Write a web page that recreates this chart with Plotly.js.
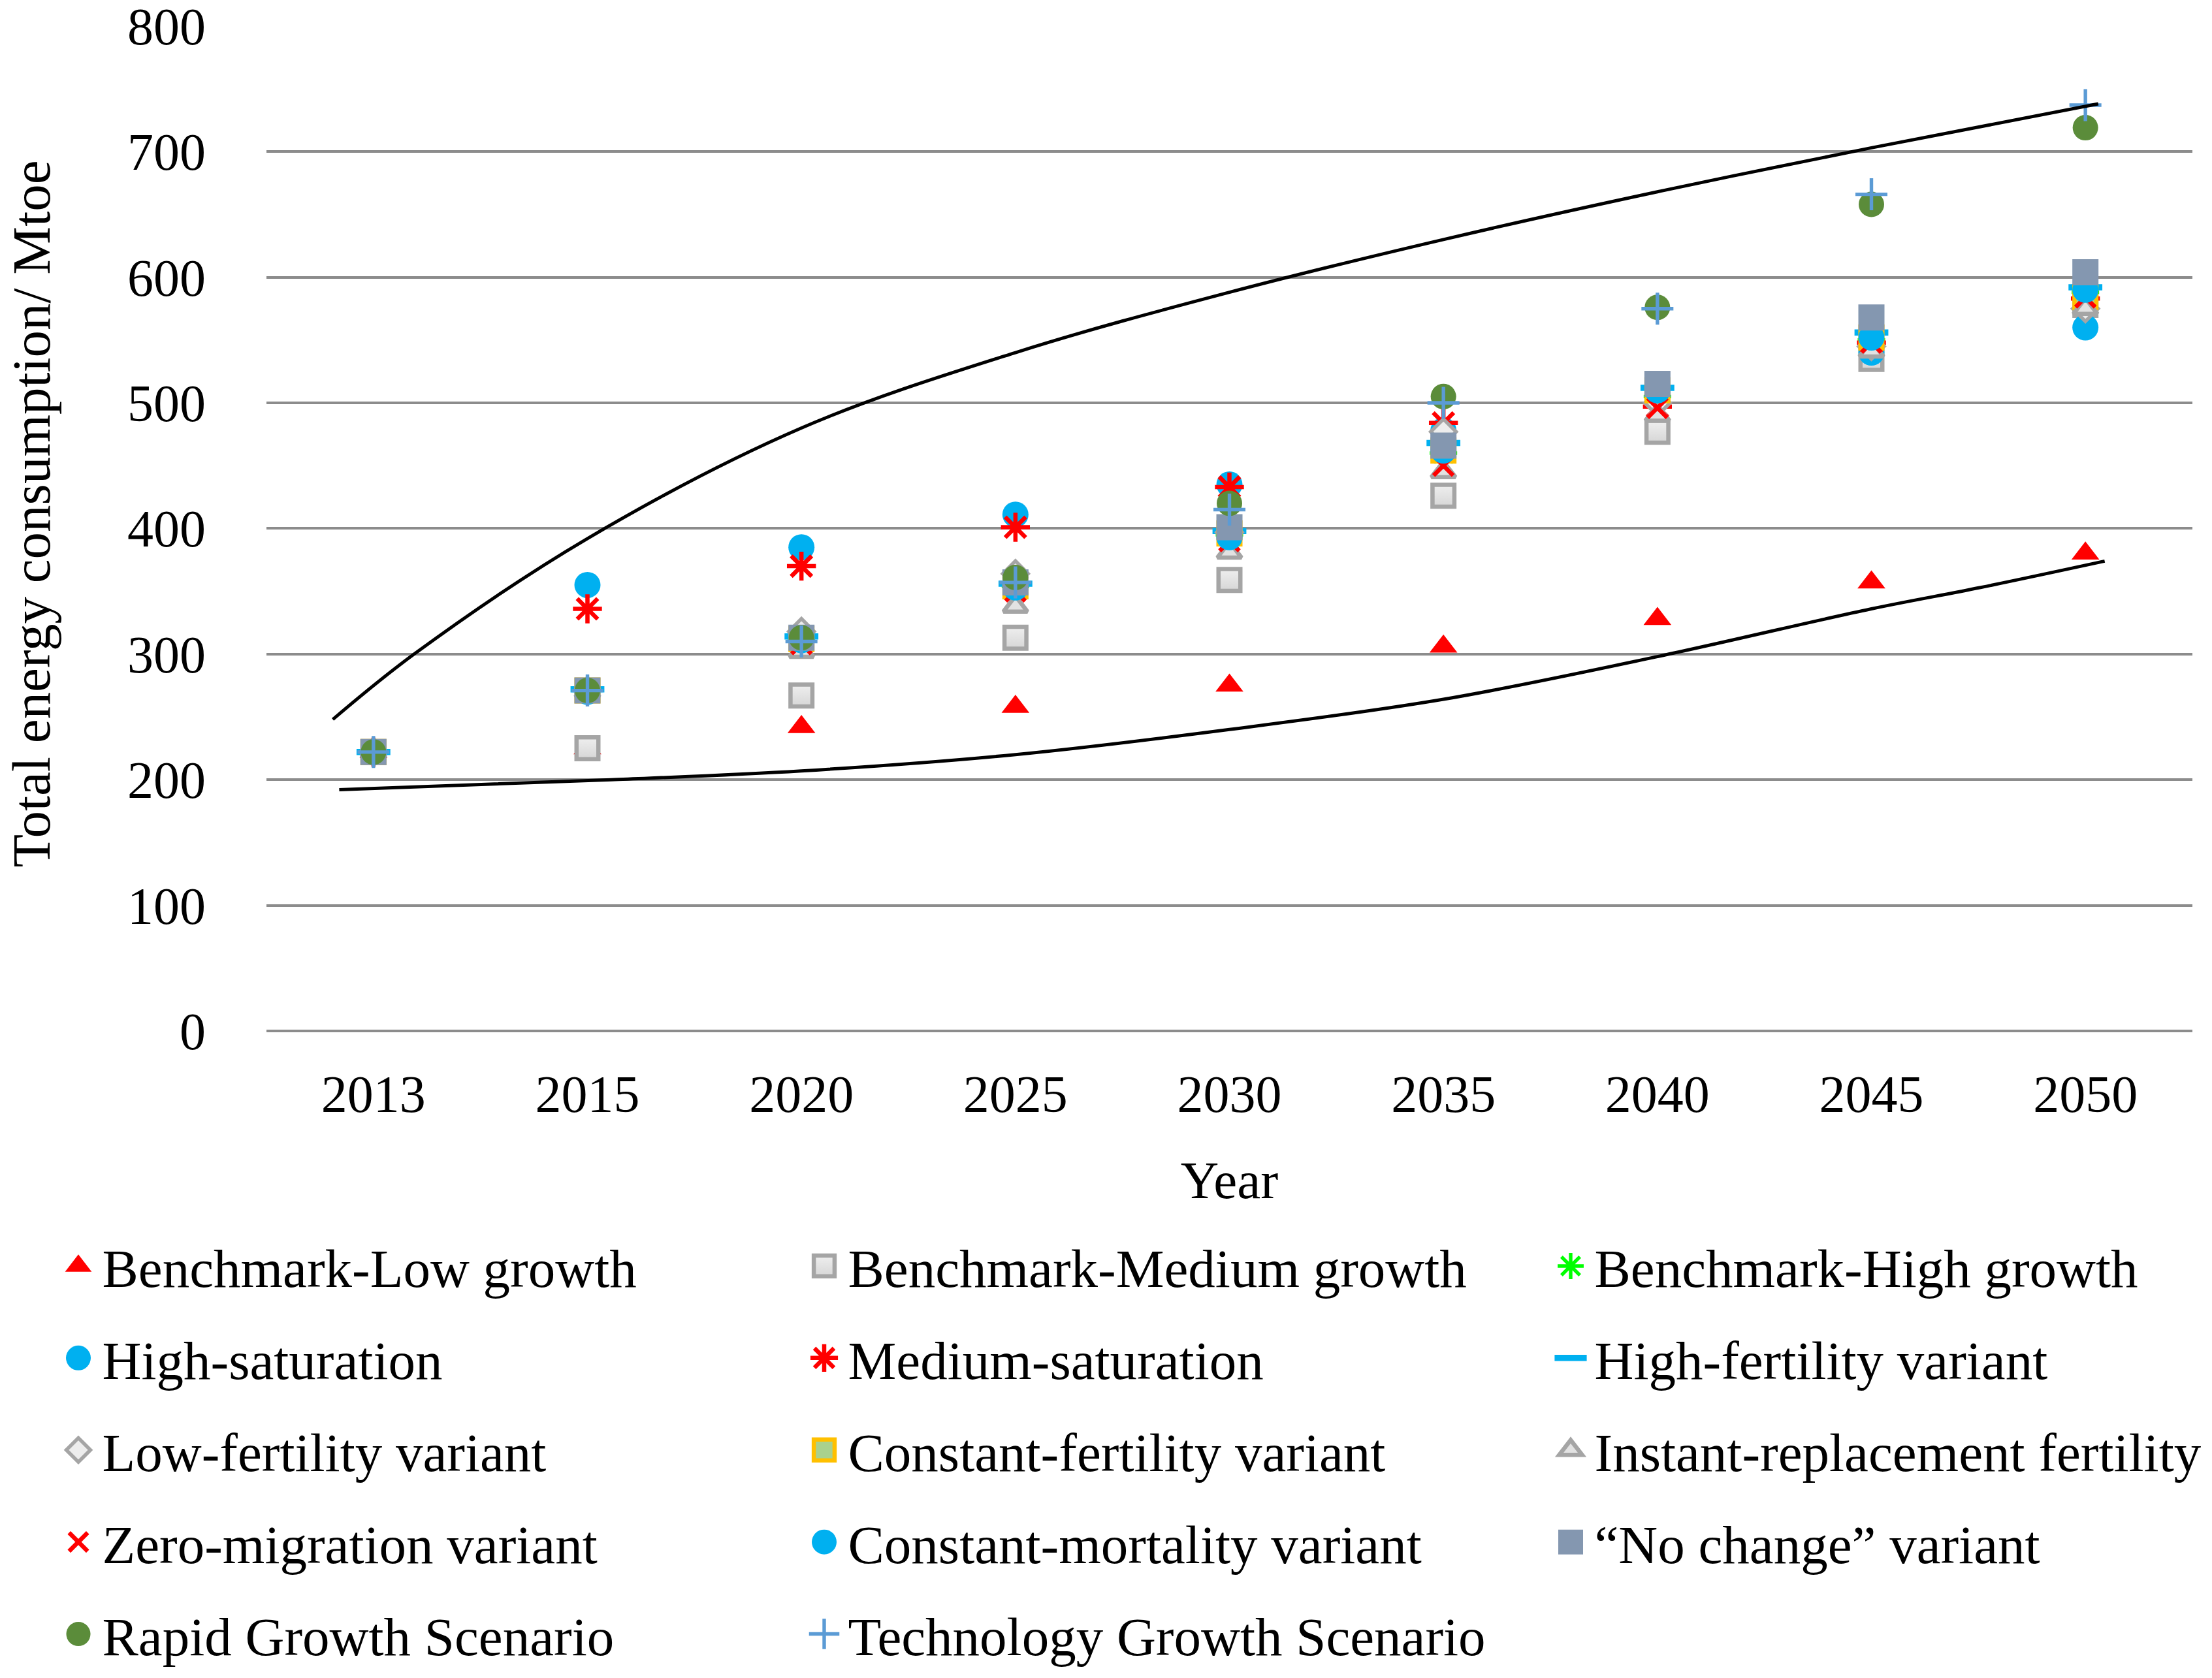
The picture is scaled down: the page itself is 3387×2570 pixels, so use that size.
<!DOCTYPE html>
<html><head><meta charset="utf-8">
<script src="https://cdn.plot.ly/plotly-3.0.1.min.js"></script>
<style>
html,body{margin:0;padding:0;background:#fff;overflow:hidden}
#chart{width:3387px;height:2570px}
</style></head>
<body><div id="chart"></div>
<script>
// ---- data ----
const years = ['2013','2015','2020','2025','2030','2035','2040','2045','2050'];
const benchmarkLow       = [222,225,242,258,275,306,328,357,380];
const benchmarkMedium    = [222,225,267,313,359,426,477,535,578];
const benchmarkHigh      = [222,271,312,354,395,460,505,550,588];
const highSaturation     = [222,355,385,411,435,478,505,540,560];
const mediumSaturation   = [222,336,370,401,433,484,497,548,583];
const highFertility      = [222,272,314,356,398,468,512,556,592];
const lowFertility       = [222,271,318,364,397,477,500,545,575];
const constantFertility  = [222,271,312,354,396,462,510,552,584];
const instantReplacement = [222,270,302,338,381,445,490,541,575];
const zeroMigration      = [222,270,308,350,390,450,496,548,584];
const constantMortality  = [222,270,311,353,393,462,510,552,590];
const noChange           = [222,271,313,357,401,466,515,568,604];
const rapidGrowth        = [222,271,313,361,420,505,576,658,719];
const technologyGrowth   = [222,271,310,357,415,500,575,666,737];
// envelope curves (x in category-position units)
const upperX = [-0.19,0.19,1,2,3,4,5,6,7,8.06];
const upperY = [248,300,392,480,540,588,630,668,703,738];
const lowerX = [-0.16,1.11,2,3,4,5,6,7,7.51,8.09];
const lowerY = [192,200,207,220,240,264,298,336,353,374];
const yTitle = 'Total energy consumption/ Mtoe';
const xTitle = 'Year';

const pos = years.map((_, i) => i);

function series(name, y, marker, legend) {
  return {type:'scatter', mode:'markers', name:name, x:pos, y:y, marker:marker,
          legend:legend, legendgroup:name, hoverinfo:'skip'};
}
const traces = [
  series('Benchmark-Low growth', benchmarkLow, {symbol:'triangle-up', size:37, color:'#FF0000'}, 'legend'),
  series('Benchmark-Medium growth', benchmarkMedium, {symbol:'square', size:33.5, color:'#EFEFEF', gradient:{type:'vertical', color:'#D6D6D6'}, line:{color:'#A5A5A5', width:6.5}}, 'legend2'),
  series('Benchmark-High growth', benchmarkHigh, {symbol:'asterisk-open', size:35, color:'#00FF00', line:{color:'#00FF00', width:5.4}}, 'legend3'),
  series('High-saturation', highSaturation, {symbol:'circle', size:40, color:'#00B0F0'}, 'legend'),
  series('Medium-saturation', mediumSaturation, {symbol:'asterisk-open', size:37, color:'#FF0000', line:{color:'#FF0000', width:6.5}}, 'legend2'),
  series('High-fertility variant', highFertility, {symbol:'line-ew-open', size:37, color:'#00B0F0', line:{color:'#00B0F0', width:9.5}}, 'legend3'),
  series('Low-fertility variant', lowFertility, {symbol:'diamond', size:30, color:'#EDEDED', line:{color:'#A5A5A5', width:5.4}}, 'legend'),
  series('Constant-fertility variant', constantFertility, {symbol:'square', size:33.5, color:'#A9D18E', line:{color:'#FFC000', width:6.5}}, 'legend2'),
  series('Instant-replacement fertility', instantReplacement, {symbol:'triangle-up', size:32, color:'#E2E2E2', line:{color:'#A5A5A5', width:6.5}}, 'legend3'),
  series('Zero-migration variant', zeroMigration, {symbol:'x-thin-open', size:30, color:'#FF0000', line:{color:'#FF0000', width:6.5}}, 'legend'),
  series('Constant-mortality variant', constantMortality, {symbol:'circle', size:40, color:'#00B0F0'}, 'legend2'),
  series('\u201cNo change\u201d variant', noChange, {symbol:'square', size:40, color:'#8497B0'}, 'legend3'),
  series('Rapid Growth Scenario', rapidGrowth, {symbol:'circle', size:39, color:'#5B8C3A'}, 'legend'),
  series('Technology Growth Scenario', technologyGrowth, {symbol:'cross-thin-open', size:35, color:'#5B9BD5', line:{color:'#5B9BD5', width:5.4}}, 'legend2'),
  {type:'scatter', mode:'lines', x:upperX, y:upperY, line:{color:'#000', width:5, shape:'spline', smoothing:1}, showlegend:false, hoverinfo:'skip'},
  {type:'scatter', mode:'lines', x:lowerX, y:lowerY, line:{color:'#000', width:5, shape:'spline', smoothing:1}, showlegend:false, hoverinfo:'skip'}
];

const FONT = 'Liberation Serif, Times New Roman, serif';
const W = 3387, H = 2570;
function legendAt(xpx) {
  return {x:xpx/W, y:1-1878.5/H, xref:'container', yref:'container', xanchor:'left', yanchor:'top',
          orientation:'v', traceorder:'grouped', tracegroupgap:30, itemwidth:63, bgcolor:'rgba(0,0,0,0)',
          font:{family:FONT, size:83, color:'#000'}};
}
const layout = {
  width:W, height:H,
  margin:{l:408, r:30, t:39.2, b:991, autoexpand:false},
  paper_bgcolor:'#fff', plot_bgcolor:'#fff',
  font:{family:FONT, size:80, color:'#000'},
  showlegend:true,
  xaxis:{type:'linear', range:[-0.5,8.5], tickvals:pos, ticktext:years, showgrid:false, zeroline:false,
         showline:false, ticks:'outside', ticklen:27, tickcolor:'rgba(0,0,0,0)', automargin:false,
         ticklabeloverflow:'allow', tickfont:{family:FONT, size:80, color:'#000'},
         title:{text:xTitle, font:{family:FONT, size:81, color:'#000'}, standoff:59}},
  yaxis:{range:[0,800.4], tick0:0, dtick:100, showgrid:true, gridcolor:'#8C8C8C', gridwidth:4,
         zeroline:true, zerolinecolor:'#8C8C8C', zerolinewidth:4, showline:false, automargin:false,
         ticks:'outside', ticklen:76, tickcolor:'rgba(0,0,0,0)', ticklabeloverflow:'allow',
         tickfont:{family:FONT, size:80, color:'#000'}},
  annotations:[{text:yTitle, textangle:-90, xref:'paper', yref:'paper', x:(48-408)/2949, y:0.514,
                xanchor:'center', yanchor:'middle', showarrow:false,
                font:{family:FONT, size:83, color:'#000'}}],
  legend:legendAt(83.5), legend2:legendAt(1225.5), legend3:legendAt(2368.5)
};

// legend symbols in Plotly are capped at 16px; enlarge them to match the plotted markers
function enlargeLegendSymbols() {
  const byName = {};
  traces.forEach(t => { if (t.name) byName[t.name] = t; });
  document.querySelectorAll('#chart .legendpoints path').forEach(p => {
    let g = p.parentNode;
    while (g && !(g.classList && g.classList.contains('traces'))) g = g.parentNode;
    if (!g) return;
    let name = null;
    const txt = g.querySelector('.legendtext');
    if (txt) name = txt.textContent;
    if ((!name || !byName[name]) && g.__data__ && g.__data__[0] && g.__data__[0].trace) name = g.__data__[0].trace.name;
    const t = byName[name];
    if (!t) return;
    const cur = p.getAttribute('transform') || '';
    if (p.dataset.scaled === cur) return;          // already handled
    const base = cur.replace(/\s*scale\([^)]*\)/g, '');
    const k = Math.max(t.marker.size, 16) / 16 * 0.95;
    const lw = t.marker.line ? t.marker.line.width : 0;
    const nt = base + ' scale(' + k + ')';
    p.setAttribute('transform', nt);
    p.dataset.scaled = nt;
    p.style.strokeWidth = (lw / k) + 'px';
  });
}
const gd = document.getElementById('chart');
Plotly.newPlot(gd, traces, layout, {staticPlot:true, displayModeBar:false}).then(() => {
  enlargeLegendSymbols();
  gd.on('plotly_afterplot', enlargeLegendSymbols);
  setTimeout(enlargeLegendSymbols, 50);
  setTimeout(enlargeLegendSymbols, 300);
});
</script></body></html>
